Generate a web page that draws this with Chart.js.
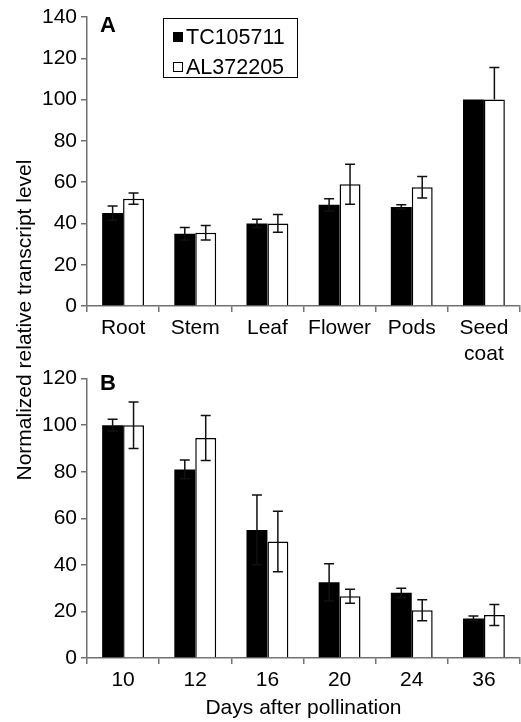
<!DOCTYPE html>
<html>
<head>
<meta charset="utf-8">
<script src="https://cdn.jsdelivr.net/npm/chart.js@4.4.1/dist/chart.umd.min.js"></script>
<style>
  body { margin: 0; background: #fff; }
  #wrap { position: relative; width: 521px; height: 722px; font-family: "Liberation Sans", Arial, sans-serif; color: #000; }
  canvas { position: absolute; left: 0; }
  #chartA { top: 0; }
  #chartB { top: 362px; }
  .panel { position: absolute; font-weight: bold; font-size: 22px; line-height: 1; }
  #ytitle { position: absolute; width: 420px; left: -186px; top: 308px; text-align: center; font-size: 21px; line-height: 24px; transform: rotate(-90deg); }
  #legend { position: absolute; left: 163px; top: 18px; width: 133px; height: 58px; border: 1px solid #000; font-size: 21.5px; }
  .row { position: absolute; left: 9px; height: 24px; line-height: 24px; white-space: nowrap; }
  .sw { display: inline-block; width: 8px; height: 8px; border: 1px solid #000; margin-right: 3px; vertical-align: 2px; }
</style>
</head>
<body>
<div id="wrap">
  <canvas id="chartA" width="521" height="362"></canvas>
  <canvas id="chartB" width="521" height="360"></canvas>
  <div class="panel" style="left:100px; top:14px;">A</div>
  <div class="panel" style="left:100px; top:372px;">B</div>
  <div id="ytitle">Normalized relative transcript level</div>
  <div id="legend">
    <div class="row" style="top:6px;"><span class="sw" style="background:#000;"></span>TC105711</div>
    <div class="row" style="top:36px;"><span class="sw" style="background:#fff;"></span>AL372205</div>
  </div>
</div>
<script>
// ----- Data -----
const tissues = ["Root", "Stem", "Leaf", "Flower", "Pods", ["Seed", "coat"]];
const tcTissue = [45, 35, 40, 49, 48, 100];
const tcTissueErr = [3.5, 3, 2, 3, 1, 0];
const alTissue = [52, 35.5, 40, 59, 57.5, 100];
const alTissueErr = [2.7, 3.5, 4.3, 9.7, 5.2, 15.5];
const alTissueErrLow = [2.7, 3.5, 4.3, 9.7, 5.2, 0];

const days = ["10", "12", "16", "20", "24", "36"];
const tcDays = [100, 81, 55, 32.5, 28, 17];
const tcDaysErr = [2.5, 4, 15, 8, 2, 1];
const alDays = [100, 94.5, 50, 26.5, 20.5, 18.5];
const alDaysErr = [10, 9.7, 13, 3, 4.5, 4.5];

const FONT = "'Liberation Sans', Arial, sans-serif";
const AXIS = "#707070";

// ----- Error bars -----
const errorBars = {
  id: "errorBars",
  afterDatasetsDraw(chart) {
    const ctx = chart.ctx;
    const y = chart.scales.y;
    chart.data.datasets.forEach((ds, i) => {
      const meta = chart.getDatasetMeta(i);
      meta.data.forEach((bar, j) => {
        const up = ds.errors[j];
        const low = ds.errorsLow ? ds.errorsLow[j] : up;
        if (!up && !low) return;
        const top = y.getPixelForValue(ds.data[j] + up);
        const bot = y.getPixelForValue(ds.data[j] - low);
        ctx.save();
        ctx.strokeStyle = "#111";
        ctx.lineWidth = 1.5;
        ctx.beginPath();
        ctx.moveTo(bar.x, top);
        ctx.lineTo(bar.x, bot);
        if (up) {
          ctx.moveTo(bar.x - 5, top);
          ctx.lineTo(bar.x + 5, top);
        }
        if (low) {
          ctx.moveTo(bar.x - 5, bot);
          ctx.lineTo(bar.x + 5, bot);
        }
        ctx.stroke();
        ctx.restore();
      });
    });
  },
};

function makeChart(id, labels, tc, tcErr, al, alErr, alErrLow, yMax, topPad, xHeight, xTitle) {
  return new Chart(document.getElementById(id), {
    type: "bar",
    data: {
      labels: labels,
      datasets: [
        { label: "TC105711", data: tc, errors: tcErr, backgroundColor: "#000", borderColor: "#000", borderWidth: 0 },
        { label: "AL372205", data: al, errors: alErr, errorsLow: alErrLow, backgroundColor: "#fff", borderColor: "#000", borderWidth: 1.5 },
      ],
    },
    options: {
      responsive: false,
      animation: false,
      devicePixelRatio: 1,
      categoryPercentage: 0.58,
      barPercentage: 1,
      layout: { padding: { top: topPad, right: 1, bottom: 0, left: 0 } },
      plugins: { legend: { display: false }, tooltip: { enabled: false } },
      scales: {
        x: {
          grid: { drawOnChartArea: false, offset: true, tickLength: 6, color: AXIS, lineWidth: 1.5 },
          border: { color: AXIS, width: 1.5 },
          ticks: { color: "#000", font: { family: FONT, size: 21, lineHeight: 1.2 }, padding: 4, maxRotation: 0, autoSkip: false },
          title: { display: !!xTitle, text: xTitle, color: "#000", font: { family: FONT, size: 21, lineHeight: 1.2 }, padding: { top: 0, bottom: 1 } },
          afterFit(scale) { scale.height = xHeight; },
        },
        y: {
          min: 0,
          max: yMax,
          grid: { drawOnChartArea: false, tickLength: 6, color: AXIS, lineWidth: 1.5 },
          border: { color: AXIS, width: 1.5 },
          ticks: { stepSize: 20, color: "#000", font: { family: FONT, size: 21 }, padding: 4 },
          afterFit(scale) { scale.width = 87; },
        },
      },
    },
    plugins: [errorBars],
  });
}

makeChart("chartA", tissues, tcTissue, tcTissueErr, alTissue, alTissueErr, alTissueErrLow, 140, 17, 56, "");
makeChart("chartB", days, tcDays, tcDaysErr, alDays, alDaysErr, null, 120, 16, 64, "Days after pollination");
</script>
</body>
</html>
